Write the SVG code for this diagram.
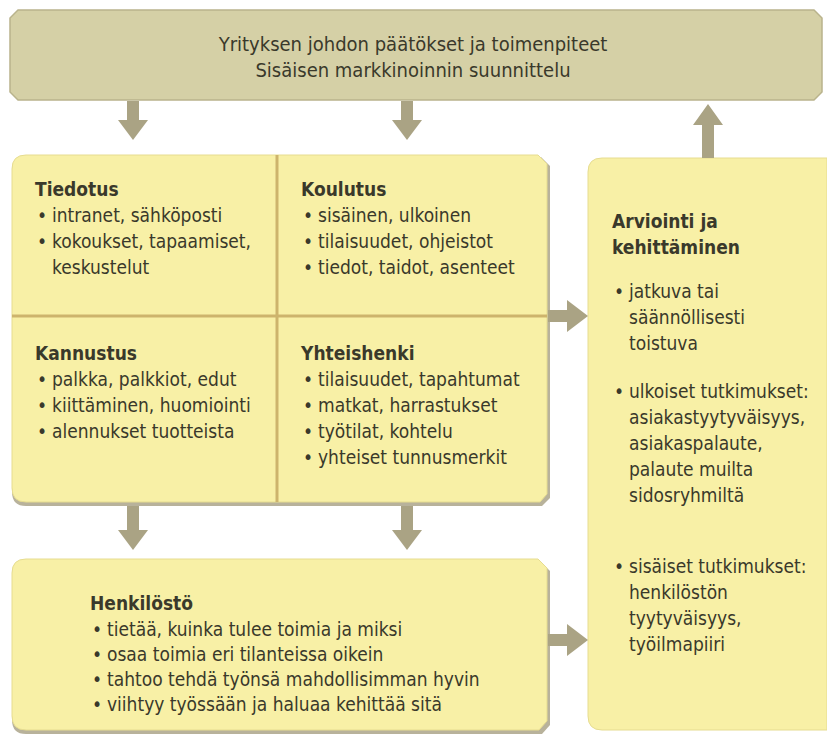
<svg xmlns="http://www.w3.org/2000/svg" width="827" height="735" viewBox="0 0 827 735">
<defs>
<style>
text{font-family:"DejaVu Sans Condensed","DejaVu Sans",sans-serif;font-stretch:condensed;font-size:19px;fill:#3a392b}
.h{font-weight:bold}
.t{text-anchor:middle;font-size:20px}
.box{fill:#f8f0a6;stroke:#e6dc90;stroke-width:1}
.top{fill:#d5d0a6;stroke:#b9b38c;stroke-width:1.5}
.div{stroke:#cdb46c;stroke-width:3}
.arr{fill:#aaa384}
.sh{fill:#b8b29b}
</style>
</defs>
<rect width="827" height="735" fill="#ffffff"/>
<g id="top">
<polygon class="top" points="18,10 814,10 822,18 822,92 814,100 18,100 10,92 10,18"/>
<text class="t" x="413" y="51">Yrityksen johdon päätökset ja toimenpiteet</text>
<text class="t" x="413" y="77">Sisäisen markkinoinnin suunnittelu</text>
</g>
<g id="main">
<path class="sh" d="M26,157 H541 L550,166 V498 L542,506 H26 Q12,506 12,492 V171 Q12,157 26,157 Z"/>
<path class="box" d="M26,155 H538 L547,164 V494 L540,502 H26 Q12,502 12,488 V169 Q12,155 26,155 Z"/>
<line class="div" x1="277" y1="155" x2="277" y2="502"/>
<line class="div" x1="12" y1="316" x2="547" y2="316"/>
</g>
<g id="tiedotus">
<text class="h" x="35" y="196">Tiedotus</text>
<text x="37" y="222">•</text><text x="52" y="222">intranet, sähköposti</text>
<text x="37" y="248">•</text><text x="52" y="248">kokoukset, tapaamiset,</text>
<text x="52" y="274">keskustelut</text>
</g>
<g id="koulutus">
<text class="h" x="301" y="196">Koulutus</text>
<text x="303" y="222">•</text><text x="318" y="222">sisäinen, ulkoinen</text>
<text x="303" y="248">•</text><text x="318" y="248">tilaisuudet, ohjeistot</text>
<text x="303" y="274">•</text><text x="318" y="274">tiedot, taidot, asenteet</text>
</g>
<g id="kannustus">
<text class="h" x="35" y="360">Kannustus</text>
<text x="37" y="386">•</text><text x="52" y="386">palkka, palkkiot, edut</text>
<text x="37" y="412">•</text><text x="52" y="412">kiittäminen, huomiointi</text>
<text x="37" y="438">•</text><text x="52" y="438">alennukset tuotteista</text>
</g>
<g id="yhteishenki">
<text class="h" x="301" y="360">Yhteishenki</text>
<text x="303" y="386">•</text><text x="318" y="386">tilaisuudet, tapahtumat</text>
<text x="303" y="412">•</text><text x="318" y="412">matkat, harrastukset</text>
<text x="303" y="438">•</text><text x="318" y="438">työtilat, kohtelu</text>
<text x="303" y="464">•</text><text x="318" y="464">yhteiset tunnusmerkit</text>
</g>
<g id="henkilosto">
<path class="sh" d="M26,562 H541 L550,571 V725 L542,734 H26 Q12,734 12,720 V576 Q12,562 26,562 Z"/>
<path class="box" d="M26,559 H538 L547,568 V721 L539,730 H26 Q12,730 12,716 V573 Q12,559 26,559 Z"/>
<text class="h" x="90" y="610">Henkilöstö</text>
<text x="92" y="636">•</text><text x="107" y="636">tietää, kuinka tulee toimia ja miksi</text>
<text x="92" y="661">•</text><text x="107" y="661">osaa toimia eri tilanteissa oikein</text>
<text x="92" y="686">•</text><text x="107" y="686">tahtoo tehdä työnsä mahdollisimman hyvin</text>
<text x="92" y="711">•</text><text x="107" y="711">viihtyy työssään ja haluaa kehittää sitä</text>
</g>
<g id="arviointi">
<path class="box" d="M602,158 H827 V730 H602 Q588,730 588,716 V172 Q588,158 602,158 Z"/>
<text class="h" x="612" y="228">Arviointi ja</text>
<text class="h" x="612" y="254">kehittäminen</text>
<text x="614" y="298">•</text><text x="629" y="298">jatkuva tai</text>
<text x="629" y="324">säännöllisesti</text>
<text x="629" y="350">toistuva</text>
<text x="614" y="398">•</text><text x="629" y="398">ulkoiset tutkimukset:</text>
<text x="629" y="424">asiakastyytyväisyys,</text>
<text x="629" y="450">asiakaspalaute,</text>
<text x="629" y="476">palaute muilta</text>
<text x="629" y="502">sidosryhmiltä</text>
<text x="614" y="573">•</text><text x="629" y="573">sisäiset tutkimukset:</text>
<text x="629" y="599">henkilöstön</text>
<text x="629" y="625">tyytyväisyys,</text>
<text x="629" y="651">työilmapiiri</text>
</g>
<g id="connectors">
<polygon class="arr" points="127,101 139,101 139,120 148,120 133,140 118,120 127,120"/>
<polygon class="arr" points="401,101 413,101 413,120 422,120 407,140 392,120 401,120"/>
<polygon class="arr" points="702,158 714,158 714,125 723,125 708,104 693,125 702,125"/>
<polygon class="arr" points="548,310 567,310 567,300 588,316 567,332 567,322 548,322"/>
<polygon class="arr" points="127,506 139,506 139,530 148,530 133,550 118,530 127,530"/>
<polygon class="arr" points="401,506 413,506 413,530 422,530 407,550 392,530 401,530"/>
<polygon class="arr" points="548,634 567,634 567,624 588,640 567,656 567,646 548,646"/>
</g>
</svg>
